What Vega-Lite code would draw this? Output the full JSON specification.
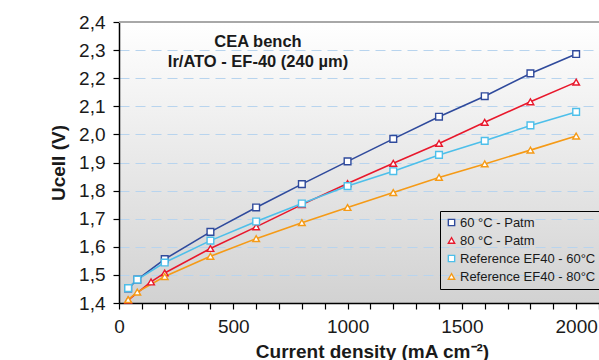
{
  "$schema": "https://vega.github.io/schema/vega-lite/v6.json",
  "width": 480,
  "height": 281,
  "autosize": "none",
  "padding": {"left": 119, "top": 22, "right": 0, "bottom": 57},
  "background": "white",
  "config": {
    "font": "Liberation Sans",
    "view": {
      "stroke": null,
      "fill": {"gradient": "linear", "x1": 0, "y1": 0, "x2": 0, "y2": 1,
        "stops": [{"offset": 0, "color": "#ffffff"}, {"offset": 1, "color": "#d2d2d2"}]}
    },
    "legend": {
      "title": null, "orient": "none", "legendX": 321, "legendY": 189,
      "strokeColor": "#000000", "padding": 5,
      "labelFontSize": 13, "labelColor": "#1a1a1a",
      "rowPadding": 4, "symbolSize": 40, "symbolStrokeWidth": 1.4,
      "symbolFillColor": "white", "labelOffset": 2
    }
  },
  "datasets": {
    "series": [
      {"serie": "60 °C - Patm", "j": 40, "u": 1.452},
      {"serie": "60 °C - Patm", "j": 80, "u": 1.483},
      {"serie": "60 °C - Patm", "j": 200, "u": 1.556},
      {"serie": "60 °C - Patm", "j": 400, "u": 1.653},
      {"serie": "60 °C - Patm", "j": 600, "u": 1.740},
      {"serie": "60 °C - Patm", "j": 800, "u": 1.823},
      {"serie": "60 °C - Patm", "j": 1000, "u": 1.904},
      {"serie": "60 °C - Patm", "j": 1200, "u": 1.984},
      {"serie": "60 °C - Patm", "j": 1400, "u": 2.063},
      {"serie": "60 °C - Patm", "j": 1600, "u": 2.136},
      {"serie": "60 °C - Patm", "j": 1800, "u": 2.217},
      {"serie": "60 °C - Patm", "j": 2000, "u": 2.286},
      {"serie": "80 °C - Patm", "j": 40, "u": 1.410},
      {"serie": "80 °C - Patm", "j": 140, "u": 1.475},
      {"serie": "80 °C - Patm", "j": 200, "u": 1.507},
      {"serie": "80 °C - Patm", "j": 400, "u": 1.594},
      {"serie": "80 °C - Patm", "j": 600, "u": 1.671},
      {"serie": "80 °C - Patm", "j": 800, "u": 1.750},
      {"serie": "80 °C - Patm", "j": 1000, "u": 1.825},
      {"serie": "80 °C - Patm", "j": 1200, "u": 1.897},
      {"serie": "80 °C - Patm", "j": 1400, "u": 1.968},
      {"serie": "80 °C - Patm", "j": 1600, "u": 2.043},
      {"serie": "80 °C - Patm", "j": 1800, "u": 2.116},
      {"serie": "80 °C - Patm", "j": 2000, "u": 2.186},
      {"serie": "Reference EF40 - 60°C", "j": 40, "u": 1.453},
      {"serie": "Reference EF40 - 60°C", "j": 80, "u": 1.483},
      {"serie": "Reference EF40 - 60°C", "j": 200, "u": 1.544},
      {"serie": "Reference EF40 - 60°C", "j": 400, "u": 1.622},
      {"serie": "Reference EF40 - 60°C", "j": 600, "u": 1.690},
      {"serie": "Reference EF40 - 60°C", "j": 800, "u": 1.754},
      {"serie": "Reference EF40 - 60°C", "j": 1000, "u": 1.816},
      {"serie": "Reference EF40 - 60°C", "j": 1200, "u": 1.869},
      {"serie": "Reference EF40 - 60°C", "j": 1400, "u": 1.927},
      {"serie": "Reference EF40 - 60°C", "j": 1600, "u": 1.977},
      {"serie": "Reference EF40 - 60°C", "j": 1800, "u": 2.032},
      {"serie": "Reference EF40 - 60°C", "j": 2000, "u": 2.080},
      {"serie": "Reference EF40 - 80°C", "j": 40, "u": 1.412},
      {"serie": "Reference EF40 - 80°C", "j": 80, "u": 1.439},
      {"serie": "Reference EF40 - 80°C", "j": 200, "u": 1.494},
      {"serie": "Reference EF40 - 80°C", "j": 400, "u": 1.566},
      {"serie": "Reference EF40 - 80°C", "j": 600, "u": 1.629},
      {"serie": "Reference EF40 - 80°C", "j": 800, "u": 1.686},
      {"serie": "Reference EF40 - 80°C", "j": 1000, "u": 1.740},
      {"serie": "Reference EF40 - 80°C", "j": 1200, "u": 1.793},
      {"serie": "Reference EF40 - 80°C", "j": 1400, "u": 1.847},
      {"serie": "Reference EF40 - 80°C", "j": 1600, "u": 1.895},
      {"serie": "Reference EF40 - 80°C", "j": 1800, "u": 1.944},
      {"serie": "Reference EF40 - 80°C", "j": 2000, "u": 1.994}
    ],
    "notes": [
      {"line": "CEA bench", "jx": 608, "uy": 2.329},
      {"line": "Ir/ATO - EF-40 (240 µm)", "jx": 608, "uy": 2.257}
    ],
    "frame": [{"top": 2.4}]
  },
  "encoding": {
    "x": {
      "field": "j", "type": "quantitative",
      "scale": {"domain": [0, 2100], "nice": false, "zero": false},
      "axis": {
        "title": "Current density (mA cm⁻²)",
        "values": [0, 100, 200, 300, 400, 500, 600, 700, 800, 900, 1000, 1100, 1200, 1300, 1400, 1500, 1600, 1700, 1800, 1900, 2000, 2100],
        "labelExpr": "datum.value % 500 == 0 ? format(datum.value, 'd') : ''",
        "grid": false,
        "domainColor": "#000000", "domainWidth": 1.5,
        "tickColor": "#000000", "tickSize": 6, "tickWidth": 1.2,
        "labelFontSize": 19, "labelColor": "#1a1a1a", "labelPadding": 8,
        "labelFlush": false,
        "titleFontSize": 19, "titleFontWeight": "bold", "titleColor": "#1a1a1a",
        "titlePadding": 6, "titleX": 253, "titleAlign": "center"
      }
    },
    "y": {
      "field": "u", "type": "quantitative",
      "scale": {"domain": [1.4, 2.4], "nice": false, "zero": false},
      "axis": {
        "title": "Ucell (V)",
        "values": [1.4, 1.5, 1.6, 1.7, 1.8, 1.9, 2.0, 2.1, 2.2, 2.3, 2.4],
        "format": ".1f",
        "labelExpr": "replace(datum.label, '.', ',')",
        "grid": true, "gridColor": "#b8d4ee", "gridDash": [10, 6], "gridWidth": 1.2,
        "domainColor": "#000000", "domainWidth": 1.5,
        "tickColor": "#000000", "tickSize": 6, "tickWidth": 1.2,
        "labelFontSize": 19, "labelColor": "#1a1a1a", "labelPadding": 8,
        "labelFlush": false,
        "titleFontSize": 19, "titleFontWeight": "bold", "titleColor": "#1a1a1a",
        "titlePadding": 10
      }
    }
  },
  "layer": [
    {
      "data": {"name": "frame"},
      "mark": {"type": "rule", "color": "#a8a8a8", "strokeWidth": 2},
      "encoding": {"y": {"field": "top", "type": "quantitative"}, "x": null}
    },
    {
      "data": {"name": "series"},
      "mark": {"type": "line", "strokeWidth": 1.6},
      "encoding": {
        "stroke": {
          "field": "serie", "type": "nominal",
          "scale": {
            "domain": ["60 °C - Patm", "80 °C - Patm", "Reference EF40 - 60°C", "Reference EF40 - 80°C"],
            "range": ["#2f4a9c", "#e8182c", "#4dbfea", "#f59a16"]
          }
        }
      }
    },
    {
      "data": {"name": "series"},
      "mark": {"type": "point", "filled": true, "fill": "white", "strokeWidth": 1.4, "size": 45, "opacity": 1},
      "encoding": {
        "stroke": {
          "field": "serie", "type": "nominal",
          "scale": {
            "domain": ["60 °C - Patm", "80 °C - Patm", "Reference EF40 - 60°C", "Reference EF40 - 80°C"],
            "range": ["#2f4a9c", "#e8182c", "#4dbfea", "#f59a16"]
          }
        },
        "shape": {
          "field": "serie", "type": "nominal",
          "scale": {
            "domain": ["60 °C - Patm", "80 °C - Patm", "Reference EF40 - 60°C", "Reference EF40 - 80°C"],
            "range": ["square", "triangle-up", "square", "triangle-up"]
          }
        }
      }
    },
    {
      "data": {"name": "notes"},
      "mark": {"type": "text", "fontWeight": "bold", "fontSize": 16.5, "color": "#1a1a1a", "align": "center", "baseline": "middle"},
      "encoding": {
        "x": {"field": "jx", "type": "quantitative"},
        "y": {"field": "uy", "type": "quantitative"},
        "text": {"field": "line", "type": "nominal"}
      }
    }
  ]
}
